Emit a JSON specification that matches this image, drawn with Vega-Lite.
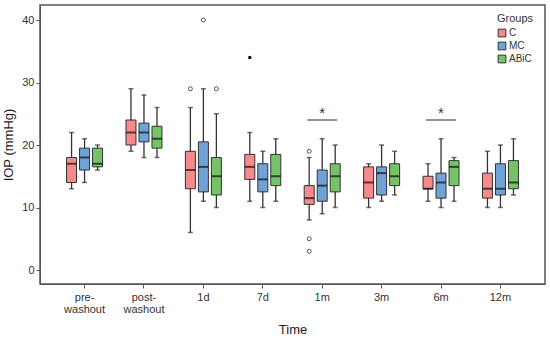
{
  "$schema": "https://vega.github.io/schema/vega-lite/v6.json",
  "width": 505,
  "height": 279,
  "autosize": "none",
  "padding": {"left": 40, "top": 5, "right": 5, "bottom": 55},
  "background": "white",
  "config": {
    "view": {"stroke": "#555555", "strokeWidth": 1.5},
    "font": "Liberation Sans",
    "axis": {"labelFont": "Liberation Sans", "titleFont": "Liberation Sans", "labelColor": "#333333", "titleColor": "#222222", "titleFontWeight": "normal", "domainColor": "#555555", "tickColor": "#555555", "tickSize": 4, "grid": false, "labelFontSize": 11, "titleFontSize": 13}
  },
  "datasets": {
    "boxes": [
      {"time": "pre-washout", "group": "C", "lower": 13, "q1": 14, "median": 17, "q3": 18, "upper": 22},
      {"time": "pre-washout", "group": "MC", "lower": 14, "q1": 16, "median": 18, "q3": 19.5, "upper": 21},
      {"time": "pre-washout", "group": "ABiC", "lower": 16, "q1": 16.5, "median": 17, "q3": 19.5, "upper": 20},
      {"time": "post-washout", "group": "C", "lower": 19, "q1": 20, "median": 22, "q3": 24, "upper": 29},
      {"time": "post-washout", "group": "MC", "lower": 18, "q1": 20.5, "median": 22, "q3": 23.5, "upper": 28},
      {"time": "post-washout", "group": "ABiC", "lower": 18, "q1": 19.5, "median": 21, "q3": 23, "upper": 26},
      {"time": "1d", "group": "C", "lower": 6, "q1": 13, "median": 16, "q3": 19, "upper": 26},
      {"time": "1d", "group": "MC", "lower": 11, "q1": 12.5, "median": 16.5, "q3": 20.5, "upper": 29},
      {"time": "1d", "group": "ABiC", "lower": 10, "q1": 12, "median": 15, "q3": 18, "upper": 25},
      {"time": "7d", "group": "C", "lower": 11, "q1": 14.5, "median": 16.5, "q3": 18.5, "upper": 22},
      {"time": "7d", "group": "MC", "lower": 10, "q1": 12.5, "median": 14.5, "q3": 17, "upper": 19},
      {"time": "7d", "group": "ABiC", "lower": 11, "q1": 13.5, "median": 15, "q3": 18.5, "upper": 21},
      {"time": "1m", "group": "C", "lower": 8, "q1": 10.5, "median": 11.5, "q3": 13.5, "upper": 18},
      {"time": "1m", "group": "MC", "lower": 9, "q1": 11, "median": 13.5, "q3": 16, "upper": 21},
      {"time": "1m", "group": "ABiC", "lower": 10, "q1": 12.5, "median": 15, "q3": 17, "upper": 20},
      {"time": "3m", "group": "C", "lower": 10, "q1": 11.5, "median": 14, "q3": 16.5, "upper": 17},
      {"time": "3m", "group": "MC", "lower": 11, "q1": 12, "median": 15.5, "q3": 16.5, "upper": 20},
      {"time": "3m", "group": "ABiC", "lower": 12, "q1": 13.5, "median": 15, "q3": 17, "upper": 19},
      {"time": "6m", "group": "C", "lower": 11, "q1": 13, "median": 13, "q3": 15, "upper": 17},
      {"time": "6m", "group": "MC", "lower": 10, "q1": 11.5, "median": 14, "q3": 15.5, "upper": 21},
      {"time": "6m", "group": "ABiC", "lower": 11, "q1": 13.5, "median": 16.5, "q3": 17.5, "upper": 18},
      {"time": "12m", "group": "C", "lower": 10, "q1": 11.5, "median": 13, "q3": 15.5, "upper": 19},
      {"time": "12m", "group": "MC", "lower": 10, "q1": 12, "median": 13, "q3": 17, "upper": 20},
      {"time": "12m", "group": "ABiC", "lower": 12, "q1": 13, "median": 14, "q3": 17.5, "upper": 21}
    ],
    "outliers": [
      {"time": "1d", "group": "C", "value": 29, "kind": "outlier"},
      {"time": "1d", "group": "MC", "value": 40, "kind": "outlier"},
      {"time": "1d", "group": "ABiC", "value": 29, "kind": "outlier"},
      {"time": "7d", "group": "C", "value": 34, "kind": "extreme"},
      {"time": "1m", "group": "C", "value": 19, "kind": "outlier"},
      {"time": "1m", "group": "C", "value": 5, "kind": "outlier"},
      {"time": "1m", "group": "C", "value": 3, "kind": "outlier"}
    ],
    "sig": [
      {"time": "1m", "bar": 24, "star": 25.4, "label": "*"},
      {"time": "6m", "bar": 24, "star": 25.4, "label": "*"}
    ]
  },
  "encoding": {
    "x": {"field": "time", "type": "nominal",
      "scale": {"domain": ["pre-washout", "post-washout", "1d", "7d", "1m", "3m", "6m", "12m"], "paddingOuter": 0.25, "paddingInner": 0},
      "axis": {"title": "Time", "labelAngle": 0, "labelPadding": 3, "titlePadding": 9, "labelLineHeight": 12,
        "labelExpr": "datum.value == 'pre-washout' ? ['pre-', 'washout'] : datum.value == 'post-washout' ? ['post-', 'washout'] : datum.label"}}
  },
  "layer": [
    {
      "data": {"name": "boxes"},
      "mark": {"type": "rule", "color": "#333333", "strokeWidth": 1.3},
      "encoding": {
        "xOffset": {"field": "group", "type": "nominal", "scale": {"domain": ["C", "MC", "ABiC"], "paddingOuter": 0.785, "paddingInner": 0}},
        "y": {"field": "lower", "type": "quantitative", "scale": {"domain": [-2.24, 42.4], "nice": false, "zero": false},
          "axis": {"title": "IOP (mmHg)", "values": [0, 10, 20, 30, 40], "titlePadding": 6}},
        "y2": {"field": "upper"}
      }
    },
    {
      "data": {"name": "boxes"},
      "mark": {"type": "tick", "color": "#333333", "size": 5, "thickness": 1.5},
      "encoding": {
        "xOffset": {"field": "group", "type": "nominal"},
        "y": {"field": "lower", "type": "quantitative"}
      }
    },
    {
      "data": {"name": "boxes"},
      "mark": {"type": "tick", "color": "#333333", "size": 5, "thickness": 1.5},
      "encoding": {
        "xOffset": {"field": "group", "type": "nominal"},
        "y": {"field": "upper", "type": "quantitative"}
      }
    },
    {
      "data": {"name": "boxes"},
      "mark": {"type": "bar", "width": 10, "stroke": "#333333", "strokeWidth": 1},
      "encoding": {
        "xOffset": {"field": "group", "type": "nominal"},
        "y": {"field": "q1", "type": "quantitative"},
        "y2": {"field": "q3"},
        "fill": {"field": "group", "type": "nominal",
          "scale": {"domain": ["C", "MC", "ABiC"], "range": ["#F8898C", "#6FA2D6", "#76C367"]},
          "legend": {"title": "Groups", "orient": "none", "legendX": 457, "legendY": 8, "symbolType": "square", "symbolSize": 60, "symbolStrokeColor": "#333333", "symbolStrokeWidth": 1, "symbolOpacity": 1, "labelFont": "Liberation Sans", "labelFontSize": 10, "labelColor": "#333333", "titleFont": "Liberation Sans", "titleFontSize": 11, "titleFontWeight": "normal", "titleColor": "#333333", "rowPadding": 1, "labelOffset": 2, "titlePadding": 4}}
      }
    },
    {
      "data": {"name": "boxes"},
      "mark": {"type": "tick", "color": "#111111", "size": 10, "thickness": 2},
      "encoding": {
        "xOffset": {"field": "group", "type": "nominal"},
        "y": {"field": "median", "type": "quantitative"}
      }
    },
    {
      "data": {"name": "outliers"},
      "transform": [{"filter": "datum.kind == 'outlier'"}],
      "mark": {"type": "point", "shape": "circle", "size": 16, "strokeWidth": 1, "opacity": 1, "fill": "white", "stroke": "#555555", "filled": false},
      "encoding": {
        "xOffset": {"field": "group", "type": "nominal"},
        "y": {"field": "value", "type": "quantitative"}
      }
    },
    {
      "data": {"name": "outliers"},
      "transform": [{"filter": "datum.kind == 'extreme'"}],
      "mark": {"type": "point", "shape": "circle", "size": 12, "strokeWidth": 0, "opacity": 1, "fill": "#000000", "filled": true},
      "encoding": {
        "xOffset": {"field": "group", "type": "nominal"},
        "y": {"field": "value", "type": "quantitative"}
      }
    },
    {
      "data": {"name": "sig"},
      "mark": {"type": "tick", "color": "#333333", "size": 30, "thickness": 1.5},
      "encoding": {
        "y": {"field": "bar", "type": "quantitative"}
      }
    },
    {
      "data": {"name": "sig"},
      "mark": {"type": "text", "fontSize": 15, "font": "Liberation Sans", "color": "#333333", "baseline": "middle", "dy": 2},
      "encoding": {
        "y": {"field": "star", "type": "quantitative"},
        "text": {"field": "label"}
      }
    }
  ]
}
